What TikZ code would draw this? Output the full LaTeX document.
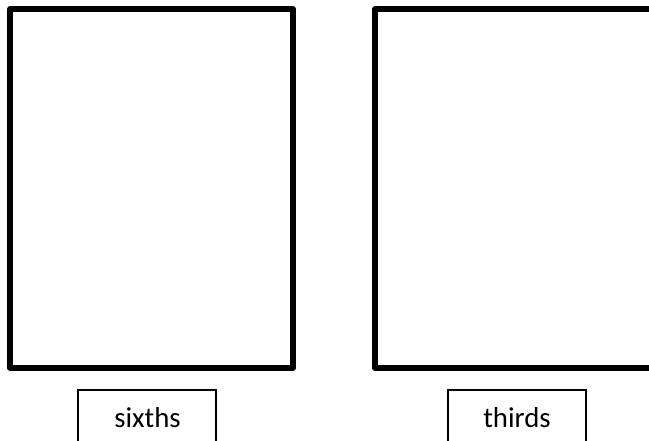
\documentclass[tikz,border=0pt]{standalone}
\usepackage{fontspec}
\setmainfont{Carlito}
\begin{document}
\begin{tikzpicture}[x=0.75pt,y=-0.75pt,
  bigbox/.style={draw=black,line width=4.1pt,line join=round,inner sep=0pt,outer sep=0pt,
    minimum width=212.25pt,minimum height=269.25pt},
  labelbox/.style={draw=black,line width=1.5pt,inner sep=0pt,outer sep=0pt,
    minimum width=103.5pt,minimum height=45pt},
  labeltext/.style={anchor=base,inner sep=0pt,font=\fontsize{21.6}{25}\selectfont}]
\useasboundingbox (0,0) rectangle (649,440);
\clip (0,0) rectangle (649,440);
\node[bigbox] (left) at (151.5,188.5) {};
\node[bigbox] (right) at (516.5,188.5) {};
\node[labelbox] (boxa) at (147,420) {};
\node[labelbox] (boxb) at (517,420) {};
\node[labeltext] (sixths) at (147.5,427) {sixths};
\node[labeltext] (thirds) at (517,427) {thirds};
\end{tikzpicture}
\end{document}
